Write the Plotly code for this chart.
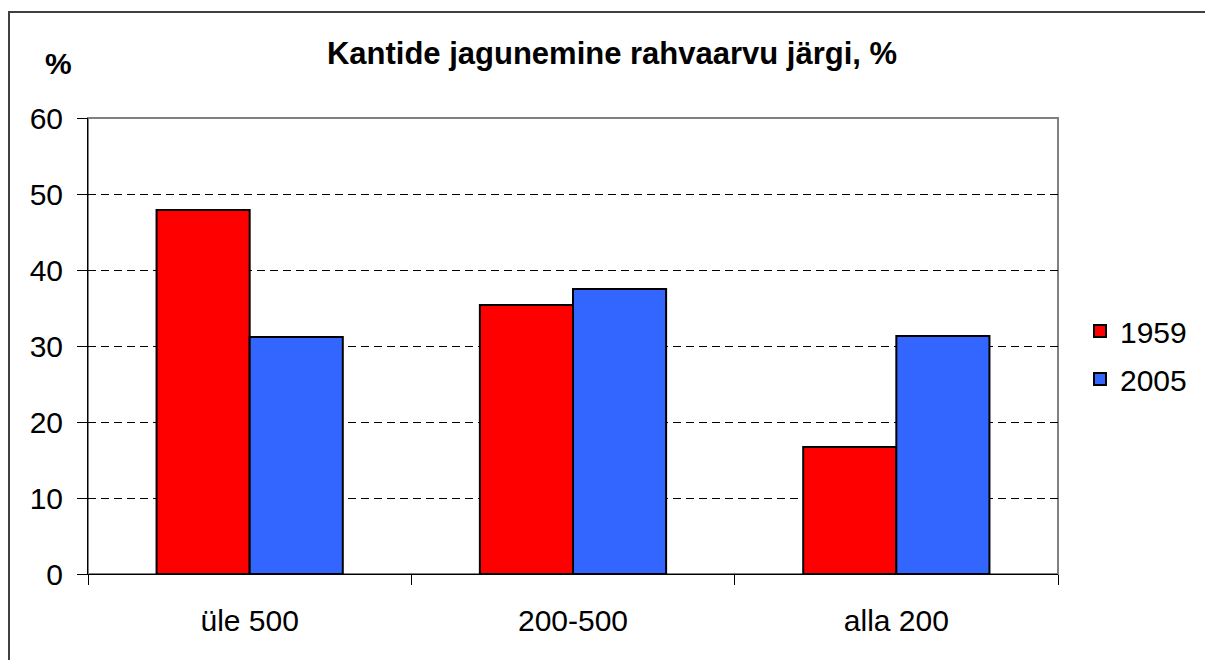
import plotly.graph_objects as go

categories = ["üle 500", "200-500", "alla 200"]
series_names = ["1959", "2005"]
values_1959 = [47.9, 35.4, 16.7]
values_2005 = [31.2, 37.5, 31.3]
y_ticks = [0, 10, 20, 30, 40, 50, 60]

FONT = "Liberation Sans, Arial, sans-serif"
OFF = 8  # page body margin
W, H = 1213 - OFF, 660 - OFF
# plot area in page pixels: x 88..1058, y 118..574
L, T = 88 - OFF, 118 - OFF
R = W - (1058 - OFF)
B = H - (574 - OFF)
pw, ph = W - L - R, H - T - B

def px_x(x):
    return (x - OFF - L) / pw

def px_y(y):
    return (H - B - (y - OFF)) / ph

fig = go.Figure()
fig.add_bar(name=series_names[0], x=categories, y=values_1959, legendgroup="a",
            marker=dict(color="#FF0000", line=dict(color="#000000", width=2)))
fig.add_bar(name=series_names[1], x=categories, y=values_2005, legendgroup="b",
            marker=dict(color="#3366FF", line=dict(color="#000000", width=2)))

fig.update_layout(
    width=W, height=H,
    margin=dict(l=L, r=R, t=T, b=B, autoexpand=False),
    paper_bgcolor="white", plot_bgcolor="white",
    barmode="group", bargap=0.424, bargroupgap=0,
    font=dict(family=FONT, size=30, color="black"),
    title=dict(text="<b>Kantide jagunemine rahvaarvu järgi, %</b>",
               x=(612 - OFF) / W, xref="container", xanchor="center",
               y=1 - (53 - OFF) / H, yref="container", yanchor="middle",
               font=dict(family=FONT, size=31, color="black")),
    legend=dict(x=px_x(1080), y=px_y(355), xanchor="left", yanchor="middle",
                font=dict(family=FONT, size=30, color="black"),
                bgcolor="rgba(0,0,0,0)", traceorder="grouped", tracegroupgap=6),
    showlegend=True,
)

fig.update_yaxes(range=[0, 60], tickvals=y_ticks, ticks="outside", ticklen=10,
                 tickcolor="black", showline=True, linecolor="black", linewidth=1,
                 showgrid=True, gridcolor="black", gridwidth=1, griddash="8px,5px",
                 zeroline=False, tickfont=dict(size=30), ticklabelstandoff=8,
                 fixedrange=True)
fig.update_xaxes(ticks="outside", tickson="boundaries", ticklen=10, tickcolor="black",
                 showline=True, linecolor="black", linewidth=1, showgrid=False,
                 tickfont=dict(size=30), ticklabelstandoff=20, fixedrange=True)

# plot area border (gray)
fig.add_shape(type="rect", xref="paper", yref="paper", x0=0, y0=0, x1=1, y1=1,
              line=dict(color="#808080", width=2), layer="below")
# outer chart border
fig.add_shape(type="rect", xref="paper", yref="paper",
              x0=px_x(9), y0=-2, x1=3, y1=px_y(12),
              line=dict(color="#404040", width=2), layer="below")

fig.add_annotation(text="<b>%</b>", xref="paper", yref="paper",
                   x=px_x(58), y=px_y(64), xanchor="center", yanchor="middle",
                   showarrow=False, font=dict(family=FONT, size=30, color="black"))

fig.write_html("out.html")
